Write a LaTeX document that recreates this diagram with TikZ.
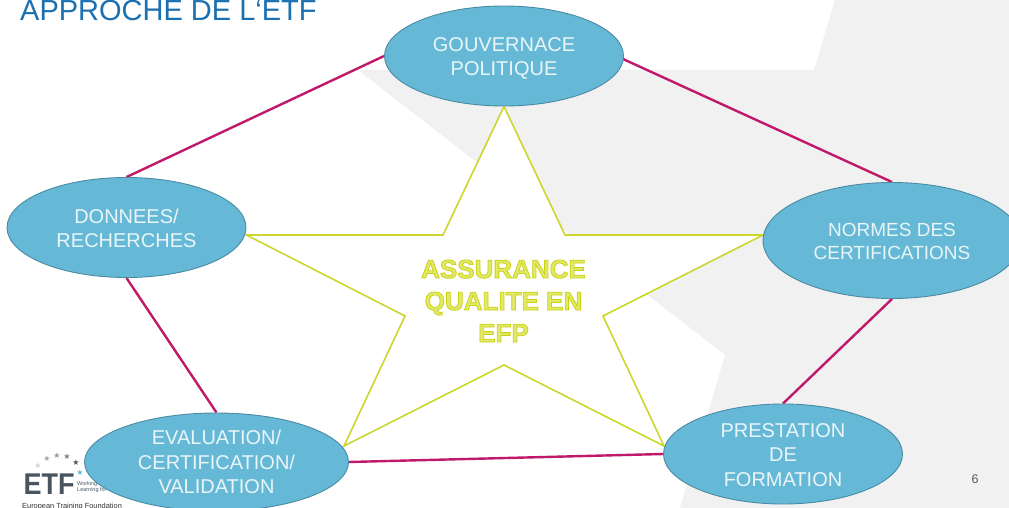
\documentclass[tikz,border=0pt]{standalone}
\usepackage{fontspec}
\setmainfont{Liberation Sans}
\newfontfamily\symfont{DejaVu Sans}
\newfontfamily\outlfont[FakeBold=3]{Liberation Sans Bold}
\usetikzlibrary{shapes.geometric,backgrounds}
\definecolor{bub}{HTML}{66B9D6}
\definecolor{bubline}{HTML}{4A8AA3}
\definecolor{mag}{HTML}{C0186A}
\definecolor{yel}{HTML}{CDD62E}
\definecolor{pale}{HTML}{F1F1F2}
\definecolor{ttl}{HTML}{1A70B0}
\definecolor{logo}{HTML}{4A5560}
\definecolor{btxt}{HTML}{E9F5F7}
\definecolor{midfill}{HTML}{E3E76A}
\newcommand{\dn}[1]{\rule{0pt}{#1pt}}
\tikzset{x=1pt,y=-1pt,
 bubble/.style={ellipse,draw=bubline,line width=.9pt,fill=bub,text=btxt,inner sep=0pt,align=center,font=\fontsize{20}{24.3}\selectfont},
 link/.style={draw=mag,line width=2.4pt},
 starline/.style={draw=yel,line width=1.6pt,fill=white,miter limit=10},
 lbl/.style={inner sep=0pt},
 logostar/.style={inner sep=0pt,font=\symfont\fontsize{8}{8}\selectfont}}
\begin{document}
\begin{tikzpicture}
\useasboundingbox (0,0) rectangle (1009,508);
% logo
\node[lbl,font=\bfseries\fontsize{30}{30}\selectfont,text=logo,xscale=.9,text height=21pt,text depth=0pt] (etf) at (49,483.5) {ETF};
\node[lbl,anchor=west,font=\fontsize{5.5}{6.5}\selectfont,text=logo,align=left] (wl) at (77,487) {Working\\Learning for};
\node[lbl,anchor=west,font=\fontsize{7.4}{7.4}\selectfont,text=black!80] (ef) at (22,507) {European Training Foundation};
\node[logostar,text=gray!35] (sa) at (38,466) {★};
\node[logostar,text=gray!70] (sb) at (47,459) {★};
\node[logostar,text=gray!80] (sc) at (57,456) {★};
\node[logostar,text=gray] (sd) at (67,457) {★};
\node[logostar,text=logo] (se) at (76,463) {★};
\node[logostar,text=bub] (sf) at (80,473) {★};
% title
\node[lbl,anchor=base west,text=ttl,font=\fontsize{29}{30}\selectfont] (title) at (20,21) {APPROCHE DE L‘ETF};
% page number
\node[lbl,text=black!65,font=\fontsize{12.5}{13}\selectfont] (page) at (975,479.5) {6};
% nodes
\node[bubble,minimum width=239,minimum height=100] (gov) at (504,56) {\dn{19}GOUVERNACE\\POLITIQUE};
\node[bubble,minimum width=239,minimum height=100] (don) at (126.5,227.5) {\dn{16}DONNEES/\\RECHERCHES};
\node[bubble,minimum width=258,minimum height=116,font=\fontsize{19}{23}\selectfont] (nor) at (892,240.5) {\dn{15}NORMES DES\\CERTIFICATIONS};
\node[bubble,minimum width=264,minimum height=98] (eva) at (216.5,462) {EVALUATION/\\CERTIFICATION/\\VALIDATION};
\node[bubble,minimum width=239,minimum height=100] (pre) at (783,454) {\dn{16}PRESTATION\\DE\\FORMATION};
% centre label
\node[lbl,align=center,font=\outlfont\fontsize{26}{32}\selectfont,text=midfill] (mid) at (503.5,301)
  {\special{pdf:code 0.78 0.83 0.05 RG}ASSURANCE\\\special{pdf:code 0.78 0.83 0.05 RG}QUALITE EN\\\special{pdf:code 0.78 0.83 0.05 RG}EFP};
\begin{scope}[on background layer]
\fill[white] (0,0) rectangle (1009,508);
\fill[pale] (358,70) -- (814,70) -- (835,0) -- (1009,0) -- (1009,508) -- (680,508) -- (725,355) -- cycle;
\coordinate (tl) at (344,446);
\coordinate (tr) at (664,446);
\draw[starline] (gov.south) -- (443,235) -- (don.east |- 0,235) -- (405,316) -- (tl) -- (504,365) -- (tr) -- (603,316) -- (763,235) -- (565,235) -- cycle;
\coordinate (gr) at (623,59);
\draw[link] (gov.west) -- (don.north);
\draw[link] (gr) -- (nor.north);
\draw[link] (nor.south) -- (pre.north);
\draw[link] (pre.west) -- (eva.east);
\draw[link] (eva.north) -- (don.south);
\end{scope}
\end{tikzpicture}
\end{document}
